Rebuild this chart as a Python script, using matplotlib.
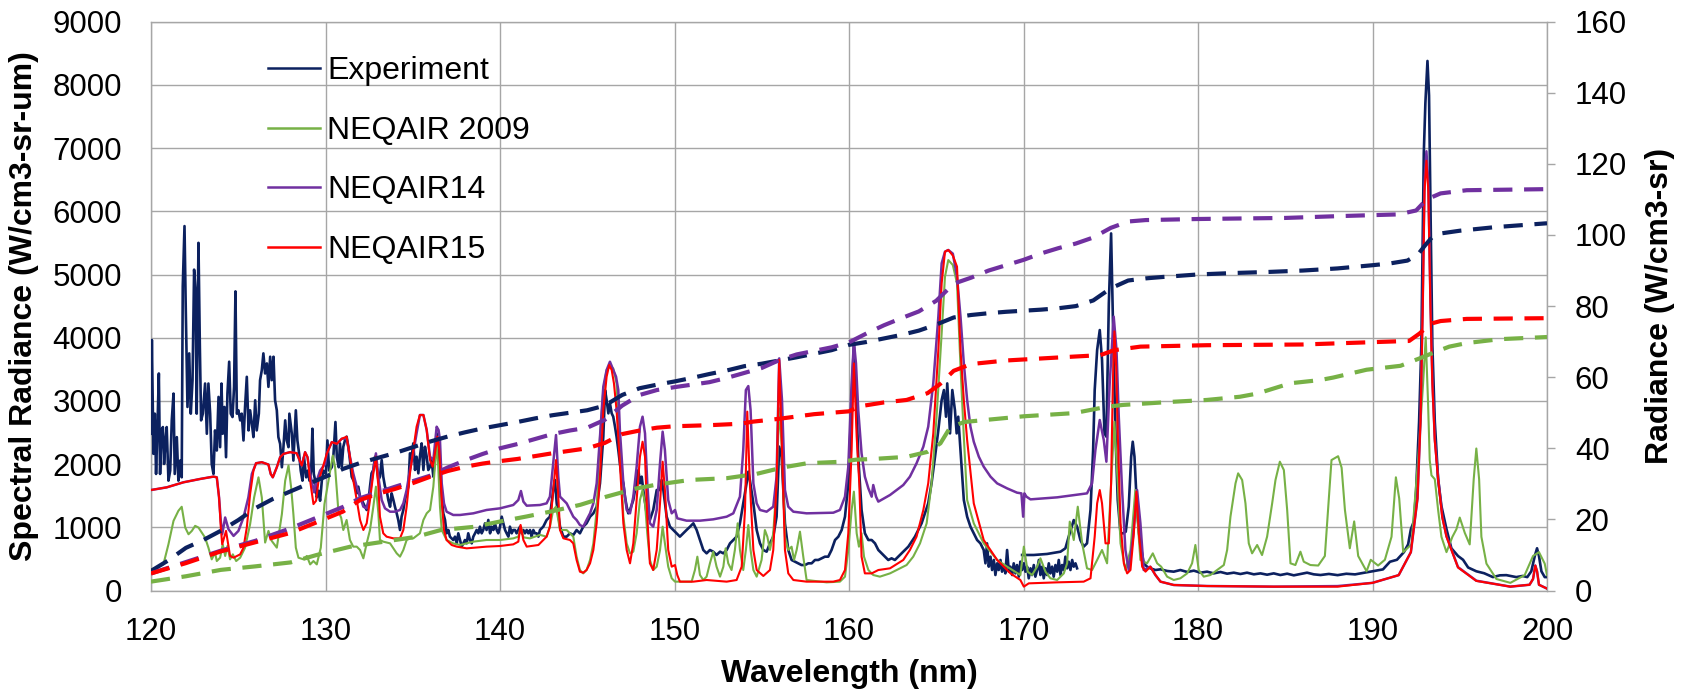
import matplotlib
matplotlib.use('Agg')
import matplotlib.pyplot as plt

plt.rcParams['font.family'] = ['Liberation Sans', 'DejaVu Sans']

# ---------------- data (wavelength nm, spectral radiance W/cm3-sr-um) ----------------
experiment = [
    (120.0, 2480), (120.05, 3964), (120.14, 2162), (120.22, 2798), (120.29, 1844), (120.37, 2586),
    (120.45, 3434), (120.52, 1844), (120.6, 2533), (120.68, 2586), (120.75, 2003), (120.83, 2374),
    (120.9, 2586), (121.0, 1738), (121.1, 1897), (121.19, 2692), (121.29, 3116), (121.36, 1844),
    (121.48, 2427), (121.57, 1738), (121.67, 2056), (121.76, 1791), (121.82, 4812), (121.92, 5766),
    (121.99, 4494), (122.09, 2904), (122.19, 3752), (122.28, 2798), (122.38, 3328), (122.47, 5077),
    (122.55, 4759), (122.62, 2798), (122.72, 5501), (122.8, 3858), (122.87, 2692), (122.97, 2798),
    (123.1, 3275), (123.2, 2480), (123.29, 3275), (123.39, 2798), (123.48, 2003), (123.58, 1844),
    (123.67, 2533), (123.77, 2215), (123.87, 3063), (123.96, 2268), (124.04, 3275), (124.11, 2480),
    (124.21, 2904), (124.3, 2109), (124.38, 3116), (124.48, 3620), (124.57, 2798), (124.67, 2745),
    (124.76, 3222), (124.84, 4733), (124.92, 2798), (125.01, 2851), (125.11, 2692), (125.2, 2798),
    (125.3, 2374), (125.39, 2904), (125.49, 3381), (125.59, 2533), (125.68, 2851), (125.78, 2639),
    (125.87, 2427), (125.97, 3010), (126.06, 2533), (126.18, 2798), (126.25, 3328), (126.35, 3487),
    (126.44, 3752), (126.54, 3434), (126.64, 3593), (126.73, 3222), (126.83, 3699), (126.92, 3328),
    (127.02, 3699), (127.11, 3010), (127.21, 2851), (127.3, 2427), (127.4, 2321), (127.5, 1950),
    (127.59, 2268), (127.69, 2692), (127.78, 2374), (127.88, 2268), (127.93, 2798), (128.07, 2480),
    (128.16, 2056), (128.3, 2851), (128.39, 2374), (128.49, 2162), (128.58, 1897), (128.68, 1738),
    (128.77, 2109), (128.89, 1791), (128.99, 1897), (129.08, 1738), (129.18, 1897), (129.25, 2560),
    (129.33, 1844), (129.41, 1738), (129.5, 1473), (129.6, 1579), (129.69, 1420), (129.79, 1738),
    (129.88, 1897), (130.02, 1844), (130.11, 2374), (130.21, 1897), (130.36, 1950), (130.46, 2162),
    (130.57, 2666), (130.65, 2109), (130.76, 1950), (130.83, 2328), (130.93, 1959), (131.02, 2275),
    (131.12, 2381), (131.21, 2434), (131.31, 2275), (131.4, 2064), (131.5, 1801), (131.59, 1748),
    (131.69, 1696), (131.79, 1537), (131.88, 1643), (131.98, 1485), (132.07, 1432), (132.17, 1379),
    (132.26, 1326), (132.36, 1274), (132.45, 1379), (132.55, 1643), (132.64, 1854), (132.74, 1907),
    (132.84, 2117), (132.93, 1959), (133.03, 1748), (133.12, 1801), (133.22, 2064), (133.31, 1801),
    (133.41, 1643), (133.5, 1590), (133.6, 1432), (133.7, 1326), (133.79, 1537), (133.89, 1432),
    (133.98, 1326), (134.08, 1221), (134.17, 1116), (134.27, 957), (134.36, 1168), (134.46, 1274),
    (134.55, 1432), (134.65, 1537), (134.75, 1643), (134.84, 2170), (134.94, 2117), (135.03, 2328),
    (135.13, 1907), (135.22, 2117), (135.32, 1854), (135.41, 2117), (135.51, 2328), (135.61, 1907),
    (135.7, 2275), (135.8, 2117), (135.89, 1907), (135.99, 1959), (136.08, 2064), (136.18, 1801),
    (136.27, 2117), (136.37, 2487), (136.46, 2222), (136.56, 1854), (136.66, 1485), (136.75, 1221),
    (136.85, 1116), (136.94, 905), (137.04, 957), (137.13, 852), (137.32, 799), (137.42, 852),
    (137.52, 746), (137.61, 905), (137.71, 799), (137.8, 694), (137.9, 746), (137.99, 799),
    (138.09, 746), (138.18, 905), (138.28, 799), (138.38, 746), (138.47, 852), (138.57, 905),
    (138.66, 957), (138.76, 905), (138.85, 1010), (138.95, 905), (139.04, 957), (139.14, 1063),
    (139.23, 957), (139.33, 1116), (139.43, 905), (139.52, 1010), (139.62, 957), (139.71, 1063),
    (139.81, 957), (139.9, 905), (140.0, 1010), (140.1, 1168), (140.19, 1063), (140.29, 957),
    (140.38, 905), (140.48, 852), (140.57, 1010), (140.67, 905), (140.76, 957), (140.86, 957),
    (140.95, 905), (141.05, 957), (141.15, 1010), (141.24, 905), (141.34, 957), (141.43, 905),
    (141.53, 957), (141.62, 905), (141.72, 957), (141.81, 852), (141.91, 957), (142.0, 905),
    (142.1, 905), (142.2, 852), (142.29, 957), (142.48, 1010), (142.67, 1115), (142.86, 1168),
    (143.05, 1590), (143.15, 1748), (143.25, 1379), (143.44, 1010), (143.63, 852), (143.82, 852),
    (144.01, 905), (144.2, 878), (144.39, 957), (144.58, 905), (144.77, 1010), (144.96, 1063),
    (145.16, 1168), (145.35, 1221), (145.54, 1326), (145.73, 1696), (145.92, 2434), (146.02, 3172),
    (146.11, 3014), (146.21, 2803), (146.3, 2961), (146.4, 2803), (146.49, 2750), (146.59, 2592),
    (146.68, 2434), (146.78, 2223), (146.87, 2012), (146.97, 1801), (147.07, 1696), (147.16, 1485),
    (147.26, 1326), (147.35, 1221), (147.45, 1274), (147.64, 1432), (147.83, 1748), (147.93, 1906),
    (148.02, 1696), (148.12, 1801), (148.21, 1590), (148.4, 1221), (148.59, 1115), (148.78, 1274),
    (148.98, 1590), (149.17, 1590), (149.26, 1748), (149.36, 1590), (149.55, 1168), (149.74, 1010),
    (149.93, 957), (150.12, 905), (150.31, 852), (150.5, 905), (150.69, 957), (150.89, 1010),
    (151.08, 1063), (151.27, 957), (151.46, 799), (151.65, 641), (151.84, 588), (152.03, 641),
    (152.22, 614), (152.41, 562), (152.61, 614), (152.8, 588), (152.99, 641), (153.18, 746),
    (153.37, 799), (153.56, 852), (153.75, 1063), (153.94, 1379), (154.13, 1696), (154.23, 1880),
    (154.32, 1748), (154.52, 1379), (154.71, 957), (154.9, 746), (155.09, 641), (155.28, 614),
    (155.47, 746), (155.66, 852), (155.85, 1168), (156.0, 2276), (156.14, 2117), (156.33, 1063),
    (156.52, 641), (156.71, 483), (156.9, 456), (157.09, 430), (157.28, 403), (157.48, 403),
    (157.67, 430), (157.86, 430), (158.05, 483), (158.24, 483), (158.43, 509), (158.62, 535),
    (158.81, 535), (159.0, 641), (159.2, 799), (159.39, 852), (159.58, 957), (159.77, 1168),
    (159.96, 1696), (160.15, 3014), (160.28, 3900), (160.4, 3172), (160.53, 2117), (160.72, 1274),
    (160.91, 905), (161.11, 799), (161.3, 799), (161.49, 746), (161.68, 641), (161.87, 588),
    (162.06, 535), (162.25, 483), (162.44, 509), (162.63, 483), (162.82, 535), (163.02, 588),
    (163.21, 641), (163.4, 694), (163.59, 773), (163.78, 852), (163.97, 957), (164.16, 1063),
    (164.35, 1221), (164.54, 1379), (164.73, 1696), (164.93, 2117), (165.12, 2539), (165.31, 3014),
    (165.44, 3172), (165.56, 2750), (165.63, 3277), (165.79, 2486), (165.92, 3172), (166.07, 2856),
    (166.17, 2486), (166.26, 2750), (166.39, 2223), (166.58, 1432), (166.77, 1168), (166.96, 1010),
    (167.15, 905), (167.34, 799), (167.53, 746), (167.72, 641), (167.82, 430), (167.91, 746),
    (168.01, 377), (168.11, 535), (168.2, 324), (168.3, 483), (168.39, 245), (168.49, 430),
    (168.58, 324), (168.68, 483), (168.77, 298), (168.87, 403), (168.96, 271), (169.06, 641),
    (169.16, 298), (169.25, 377), (169.35, 245), (169.44, 430), (169.54, 271), (169.63, 403),
    (169.73, 219), (169.82, 456), (169.92, 324), (170.02, 430), (170.11, 298), (170.21, 377),
    (170.3, 193), (170.4, 351), (170.49, 245), (170.59, 403), (170.68, 219), (170.78, 324),
    (170.88, 483), (170.97, 245), (171.07, 377), (171.16, 193), (171.26, 351), (171.35, 245),
    (171.45, 430), (171.54, 271), (171.64, 377), (171.73, 219), (171.83, 403), (171.93, 298),
    (172.02, 483), (172.12, 245), (172.21, 403), (172.31, 324), (172.4, 535), (172.5, 351),
    (172.59, 456), (172.69, 324), (172.79, 483), (172.88, 377), (172.98, 430), (173.07, 351),
]
# second spectrometer window of the experiment (overlaps 170-173 nm)
experiment_b = [
    (169.92, 562), (170.59, 562), (171.35, 578), (172.12, 614), (172.4, 667), (172.59, 852),
    (172.88, 1115), (173.07, 1010), (173.26, 799), (173.45, 694), (173.64, 746), (173.84, 1274),
    (173.99, 2223), (174.08, 3172), (174.22, 3805), (174.37, 4121), (174.5, 3647), (174.64, 2486),
    (174.75, 2434), (174.89, 4543), (175.02, 5650), (175.14, 4069), (175.27, 2486), (175.4, 1432),
    (175.56, 905), (175.71, 905), (175.86, 931), (176.03, 1326), (176.17, 2117), (176.26, 2354),
    (176.36, 2117), (176.51, 1274), (176.66, 799), (176.89, 430), (177.08, 377), (177.27, 351),
    (177.56, 324), (177.85, 335), (178.23, 309), (178.61, 298), (178.99, 324), (179.38, 293),
    (179.76, 314), (180.14, 282), (180.52, 298), (180.9, 271), (181.29, 293), (181.67, 266),
    (182.05, 282), (182.43, 261), (182.81, 282), (183.2, 256), (183.58, 271), (183.96, 250),
    (184.34, 271), (184.72, 245), (185.11, 266), (185.49, 240), (185.87, 261), (186.25, 282),
    (186.63, 256), (187.02, 245), (187.5, 262), (188.0, 243), (188.5, 265), (189.0, 255),
    (189.5, 280), (190.0, 304), (190.6, 334), (191.0, 455), (191.4, 486), (191.8, 607),
    (192.04, 729), (192.2, 971), (192.37, 1093), (192.5, 1579), (192.67, 2671), (192.8, 3886),
    (192.94, 6922), (193.03, 7711), (193.15, 8379), (193.24, 7832), (193.34, 5707), (193.43, 3886),
    (193.57, 2671), (193.76, 1761), (193.95, 1336), (194.24, 971), (194.52, 668), (194.9, 546),
    (195.19, 486), (195.48, 364), (195.95, 304), (196.4, 273), (196.9, 212), (197.3, 240),
    (197.67, 243), (198.0, 225), (198.24, 212), (198.6, 230), (198.87, 212), (199.1, 304),
    (199.3, 546), (199.43, 668), (199.54, 546), (199.68, 304), (199.87, 212), (200.0, 212),
]

neqair2009 = [
    (120.0, 334), (120.33, 360), (120.71, 413), (121.0, 731), (121.29, 1102), (121.57, 1261),
    (121.76, 1325), (121.96, 996), (122.15, 890), (122.34, 943), (122.53, 1023), (122.72, 996),
    (122.91, 917), (123.1, 837), (123.29, 678), (123.48, 493), (123.67, 599), (123.77, 466),
    (123.96, 519), (124.11, 731), (124.25, 546), (124.38, 705), (124.53, 493), (124.69, 572),
    (124.88, 466), (125.11, 519), (125.39, 678), (125.68, 1049), (125.91, 1473), (126.16, 1791),
    (126.35, 1473), (126.54, 758), (126.73, 943), (126.92, 784), (127.21, 678), (127.5, 1208),
    (127.69, 1738), (127.88, 1977), (128.03, 1632), (128.16, 1208), (128.3, 678), (128.45, 519),
    (128.74, 493), (128.93, 546), (129.12, 413), (129.31, 466), (129.5, 413), (129.73, 678),
    (129.94, 1367), (130.17, 1738), (130.42, 2136), (130.55, 1950), (130.74, 1250), (130.9, 1150),
    (131.02, 957), (131.21, 1116), (131.4, 799), (131.59, 694), (131.79, 694), (131.98, 641),
    (132.17, 509), (132.36, 746), (132.55, 957), (132.74, 1326), (132.89, 1643), (133.03, 1221),
    (133.12, 799), (133.31, 773), (133.7, 746), (134.08, 588), (134.27, 536), (134.46, 641),
    (134.65, 799), (134.84, 825), (135.03, 825), (135.41, 905), (135.61, 1116), (135.8, 1221),
    (135.99, 1274), (136.18, 1643), (136.37, 2328), (136.46, 1959), (136.56, 1326), (136.66, 957),
    (136.75, 905), (136.94, 799), (137.32, 746), (137.71, 720), (138.09, 746), (138.47, 773),
    (139.23, 799), (140.0, 799), (140.76, 825), (141.05, 852), (141.2, 1010), (141.34, 841),
    (141.72, 825), (142.29, 880), (142.67, 852), (142.86, 1010), (143.05, 1274), (143.21, 1327),
    (143.44, 957), (143.82, 957), (144.2, 852), (144.39, 535), (144.58, 324), (144.77, 271),
    (144.96, 324), (145.16, 483), (145.35, 746), (145.54, 1274), (145.73, 2434), (145.92, 3172),
    (146.11, 3489), (146.3, 3541), (146.49, 3515), (146.68, 3278), (146.87, 2223), (147.07, 1168),
    (147.26, 746), (147.45, 588), (147.64, 614), (147.83, 905), (148.02, 1432), (148.17, 1590),
    (148.31, 1379), (148.44, 905), (148.59, 483), (148.78, 324), (148.98, 377), (149.17, 641),
    (149.32, 1010), (149.45, 746), (149.64, 377), (149.84, 193), (150.03, 140), (150.98, 140),
    (151.17, 324), (151.31, 535), (151.46, 245), (151.65, 166), (151.84, 219), (152.03, 430),
    (152.22, 614), (152.41, 377), (152.61, 219), (152.8, 377), (152.93, 667), (153.08, 430),
    (153.27, 324), (153.46, 641), (153.62, 1063), (153.75, 641), (153.94, 324), (154.09, 641),
    (154.23, 1036), (154.36, 641), (154.52, 324), (154.71, 219), (154.99, 483), (155.18, 957),
    (155.32, 852), (155.47, 641), (155.66, 905), (155.85, 1696), (156.0, 2882), (156.16, 2223),
    (156.33, 852), (156.52, 641), (156.71, 693), (156.85, 483), (157.0, 641), (157.19, 931),
    (157.38, 535), (157.57, 166), (158.72, 129), (159.48, 140), (159.77, 219), (159.96, 641),
    (160.15, 1274), (160.28, 1564), (160.44, 905), (160.57, 693), (160.72, 905), (160.86, 535),
    (161.11, 324), (161.39, 245), (161.77, 219), (162.35, 271), (162.92, 351), (163.3, 403),
    (163.68, 535), (164.07, 746), (164.45, 1063), (164.73, 1696), (165.02, 2750), (165.31, 4069),
    (165.5, 4965), (165.69, 5229), (165.95, 5150), (166.19, 4860), (166.39, 3541), (166.58, 2433),
    (166.77, 1432), (167.15, 1063), (167.72, 746), (168.49, 483), (169.06, 377), (169.82, 245),
    (170.02, 694), (170.24, 298), (170.49, 245), (170.78, 377), (170.97, 509), (171.26, 298),
    (171.54, 193), (171.93, 166), (172.31, 271), (172.5, 430), (172.65, 1089), (172.88, 799),
    (173.11, 1326), (173.36, 746), (173.64, 351), (173.93, 324), (174.22, 483), (174.5, 641),
    (174.79, 430), (175.02, 1696), (175.21, 2671), (175.4, 1696), (175.56, 746), (175.84, 324),
    (176.13, 641), (176.41, 1590), (176.7, 483), (177.08, 430), (177.41, 588), (177.66, 430),
    (177.89, 377), (178.23, 219), (178.61, 166), (178.99, 193), (179.38, 271), (179.66, 430),
    (179.85, 720), (180.04, 324), (180.33, 219), (180.71, 245), (181.1, 324), (181.48, 403),
    (181.67, 641), (181.86, 1168), (182.15, 1696), (182.3, 1854), (182.53, 1748), (182.72, 1379),
    (182.91, 746), (183.1, 588), (183.39, 720), (183.67, 561), (183.96, 852), (184.25, 1379),
    (184.44, 1748), (184.69, 2038), (184.92, 1906), (185.11, 1274), (185.3, 430), (185.58, 403),
    (185.87, 614), (186.06, 456), (186.44, 403), (186.89, 395), (187.27, 546), (187.65, 2064),
    (188.03, 2125), (188.23, 1943), (188.42, 1275), (188.7, 668), (188.95, 1093), (189.18, 546),
    (189.66, 304), (189.9, 486), (190.32, 395), (190.71, 486), (191.09, 850), (191.34, 1791),
    (191.53, 1457), (191.76, 607), (192.23, 729), (192.61, 2064), (192.9, 3279), (193.05, 4007),
    (193.18, 3000), (193.28, 2064), (193.38, 1822), (193.57, 1761), (193.76, 1275), (193.95, 850),
    (194.24, 607), (194.58, 850), (194.81, 971), (195.0, 1154), (195.29, 911), (195.57, 729),
    (195.8, 1761), (195.95, 2247), (196.11, 1761), (196.24, 850), (196.53, 425), (197.1, 182),
    (197.9, 121), (198.72, 243), (199.2, 546), (199.54, 607), (199.87, 425), (200.0, 243),
]

neqair14 = [
    (120.0, 1590), (120.9, 1632), (121.86, 1712), (122.82, 1765), (123.58, 1802), (123.77, 1791),
    (123.9, 1473), (124.0, 1100), (124.08, 890), (124.25, 1155), (124.44, 970), (124.73, 864),
    (125.01, 943), (125.3, 1155), (125.58, 1473), (125.78, 1844), (126.02, 2014), (126.35, 2030),
    (126.73, 1993), (126.86, 1844), (126.98, 1791), (127.21, 1950), (127.4, 2109), (127.59, 2162),
    (127.97, 2189), (128.35, 2173), (128.64, 1977), (128.83, 2189), (128.97, 2109), (129.12, 1844),
    (129.35, 1553), (129.5, 1738), (129.69, 1897), (129.98, 2003), (130.07, 2162), (130.36, 2348),
    (130.65, 2321), (130.93, 2401), (131.21, 2408), (131.4, 2117), (131.59, 1854), (131.79, 1643),
    (131.98, 1485), (132.17, 1326), (132.36, 1300), (132.55, 1537), (132.74, 1907), (132.89, 2170),
    (133.03, 1801), (133.22, 1432), (133.41, 1300), (133.7, 1247), (133.98, 1247), (134.27, 1274),
    (134.46, 1379), (134.65, 1590), (134.84, 1907), (135.03, 2170), (135.22, 2487), (135.41, 2777),
    (135.61, 2777), (135.8, 2539), (135.99, 2117), (136.18, 2064), (136.37, 2592), (136.48, 2539),
    (136.56, 2381), (136.66, 1696), (136.79, 1379), (136.94, 1247), (137.32, 1195), (137.71, 1195),
    (138.47, 1221), (139.23, 1274), (140.0, 1300), (140.76, 1353), (141.05, 1432), (141.2, 1574),
    (141.34, 1406), (141.53, 1342), (142.29, 1353), (142.67, 1379), (142.86, 1485), (143.05, 2012),
    (143.21, 2460), (143.34, 1801), (143.44, 1485), (143.63, 1432), (143.82, 1379), (144.01, 1274),
    (144.2, 1168), (144.39, 1115), (144.58, 1036), (144.77, 1010), (144.96, 1115), (145.16, 1221),
    (145.35, 1379), (145.54, 1696), (145.73, 2434), (145.92, 3225), (146.11, 3489), (146.3, 3620),
    (146.49, 3489), (146.65, 3383), (146.78, 3172), (146.87, 2539), (147.07, 1696), (147.26, 1274),
    (147.45, 1221), (147.64, 1485), (147.83, 1959), (148.02, 2592), (148.17, 2750), (148.31, 2486),
    (148.44, 1696), (148.59, 1063), (148.78, 1010), (148.98, 1274), (149.17, 2012), (149.32, 2513),
    (149.45, 2223), (149.64, 1432), (149.84, 1221), (150.03, 1274), (150.16, 1142), (150.69, 1105),
    (151.46, 1105), (152.22, 1126), (152.99, 1168), (153.37, 1221), (153.75, 1485), (153.94, 2223),
    (154.09, 3172), (154.23, 3235), (154.36, 2856), (154.52, 1696), (154.71, 1379), (154.9, 1274),
    (155.28, 1247), (155.66, 1326), (155.85, 1801), (156.0, 3673), (156.16, 3014), (156.33, 1590),
    (156.52, 1326), (156.81, 1247), (157.57, 1221), (159.1, 1231), (159.48, 1274), (159.77, 1485),
    (159.96, 1959), (160.15, 3278), (160.28, 3937), (160.4, 3594), (160.53, 2856), (160.72, 2170),
    (160.91, 1801), (161.11, 1616), (161.3, 1485), (161.39, 1669), (161.55, 1485), (161.68, 1406),
    (162.35, 1511), (163.11, 1669), (163.49, 1801), (163.87, 2012), (164.26, 2276), (164.54, 2592),
    (164.83, 3278), (165.12, 4333), (165.31, 5177), (165.5, 5361), (165.69, 5388), (165.95, 5330),
    (166.19, 4965), (166.39, 4333), (166.58, 3594), (166.77, 3014), (166.96, 2592), (167.15, 2354),
    (167.44, 2117), (167.72, 1959), (168.11, 1801), (168.49, 1695), (169.06, 1616), (169.63, 1548),
    (169.88, 1537), (169.98, 1168), (170.05, 1537), (170.17, 1485), (170.4, 1442), (171.93, 1474),
    (173.64, 1537), (173.93, 1696), (174.12, 2223), (174.37, 2698), (174.6, 2381), (174.75, 2038),
    (174.94, 3278), (175.17, 4333), (175.33, 3805), (175.46, 2750), (175.65, 1590), (175.84, 641),
    (176.03, 324), (176.28, 852), (176.51, 1590), (176.7, 1063), (176.89, 324), (177.27, 377),
    (177.56, 245), (177.85, 140), (178.61, 87), (180.52, 71), (184.34, 61), (188.0, 70),
    (190.0, 121), (191.5, 243), (192.2, 607), (192.58, 1457), (192.75, 2700), (192.88, 4600),
    (192.98, 6450), (193.09, 6950), (193.2, 6450), (193.32, 4600), (193.43, 3350), (193.57, 2400),
    (193.76, 1790), (194.0, 1170), (194.24, 860), (194.9, 370), (195.95, 155), (197.9, 61),
    (199.0, 91), (199.2, 182), (199.33, 395), (199.43, 304), (199.54, 91), (200.0, 30),
]

neqair15 = [
    (120.0, 1590), (120.9, 1632), (121.86, 1712), (122.82, 1765), (123.58, 1802), (123.77, 1791),
    (123.9, 1473), (124.0, 996), (124.08, 731), (124.19, 837), (124.3, 943), (124.42, 731),
    (124.53, 546), (124.73, 519), (124.92, 546), (125.11, 572), (125.3, 678), (125.49, 996),
    (125.68, 1526), (125.87, 1897), (126.02, 2014), (126.35, 2030), (126.73, 1993), (126.86, 1844),
    (126.98, 1791), (127.21, 1950), (127.4, 2109), (127.59, 2162), (127.97, 2189), (128.35, 2173),
    (128.64, 1977), (128.83, 2189), (128.97, 2109), (129.12, 1738), (129.31, 1367), (129.46, 1420),
    (129.6, 1738), (129.79, 1897), (130.07, 2162), (130.36, 2348), (130.65, 2321), (130.93, 2401),
    (131.21, 2434), (131.4, 2117), (131.59, 1748), (131.79, 1432), (131.98, 1116), (132.17, 957),
    (132.36, 1063), (132.55, 1432), (132.74, 1854), (132.89, 2117), (133.03, 1643), (133.12, 1168),
    (133.31, 905), (133.5, 852), (133.89, 825), (134.27, 825), (134.46, 957), (134.65, 1326),
    (134.84, 1854), (135.03, 2222), (135.22, 2592), (135.41, 2777), (135.61, 2777), (135.8, 2539),
    (135.99, 2064), (136.14, 1959), (136.27, 2170), (136.41, 2434), (136.52, 2222), (136.66, 1432),
    (136.79, 957), (136.94, 799), (137.23, 720), (137.52, 694), (138.09, 667), (139.23, 694),
    (140.0, 704), (140.76, 730), (141.05, 773), (141.18, 1037), (141.34, 799), (141.53, 694),
    (142.2, 720), (142.48, 799), (142.67, 852), (142.86, 1010), (143.05, 1590), (143.21, 2064),
    (143.34, 1485), (143.44, 957), (143.63, 826), (144.01, 799), (144.2, 746), (144.39, 483),
    (144.58, 298), (144.77, 282), (144.96, 324), (145.16, 430), (145.35, 641), (145.54, 1063),
    (145.73, 1801), (145.92, 2856), (146.11, 3383), (146.26, 3568), (146.4, 3489), (146.53, 3278),
    (146.68, 2856), (146.87, 2012), (147.07, 1063), (147.26, 641), (147.45, 430), (147.64, 746),
    (147.83, 1432), (148.02, 2117), (148.17, 2354), (148.31, 2117), (148.44, 1168), (148.59, 430),
    (148.78, 324), (148.98, 641), (149.17, 1379), (149.32, 2038), (149.45, 1590), (149.64, 641),
    (149.84, 377), (150.03, 403), (150.16, 245), (150.31, 140), (151.08, 140), (151.84, 166),
    (152.99, 140), (153.56, 166), (153.85, 377), (154.04, 1274), (154.17, 2830), (154.32, 1696),
    (154.52, 641), (154.71, 324), (155.09, 230), (155.47, 324), (155.66, 641), (155.85, 1696),
    (156.0, 3647), (156.16, 2223), (156.33, 641), (156.52, 271), (156.81, 166), (157.57, 140),
    (159.1, 140), (159.48, 166), (159.77, 324), (159.96, 905), (160.15, 2223), (160.28, 3594),
    (160.44, 2434), (160.59, 1696), (160.72, 535), (160.91, 271), (161.3, 271), (161.68, 324),
    (162.35, 351), (163.11, 483), (163.49, 641), (163.87, 852), (164.26, 1274), (164.54, 1696),
    (164.83, 2486), (165.12, 3805), (165.31, 4860), (165.5, 5361), (165.69, 5388), (165.95, 5300),
    (166.19, 5124), (166.39, 3805), (166.58, 3014), (166.77, 2381), (167.15, 1379), (167.72, 799),
    (168.49, 483), (169.25, 272), (169.82, 166), (170.02, 61), (170.3, 113), (171.93, 129),
    (173.45, 140), (173.84, 193), (174.08, 852), (174.22, 1379), (174.37, 1590), (174.5, 1379),
    (174.7, 746), (174.89, 746), (175.02, 1696), (175.12, 3278), (175.21, 4100), (175.31, 3541),
    (175.4, 2486), (175.56, 1063), (175.75, 430), (175.94, 271), (176.13, 324), (176.32, 899),
    (176.47, 1564), (176.61, 899), (176.8, 377), (176.99, 298), (177.27, 377), (177.56, 245),
    (177.85, 140), (178.61, 87), (180.52, 71), (184.34, 61), (188.0, 61), (190.0, 121),
    (191.5, 243), (192.2, 607), (192.58, 1457), (192.75, 2671), (192.88, 4493), (192.98, 6315),
    (193.09, 6800), (193.2, 6315), (193.32, 4493), (193.43, 3279), (193.57, 2368), (193.76, 1761),
    (194.0, 1154), (194.24, 850), (194.9, 364), (195.95, 152), (197.9, 61), (199.0, 91),
    (199.2, 182), (199.33, 395), (199.43, 304), (199.54, 91), (200.0, 30),
]

# cumulative radiance (W/cm3-sr), right axis
experiment_cum = [
    (120, 5.5), (121, 8.5), (122, 12.0), (123, 14.2), (124, 16.8), (125, 19.8), (126, 23.2),
    (127, 25.8), (128, 27.9), (129, 30.0), (130, 32.0), (131, 34.2), (132, 35.9), (133, 37.3),
    (134, 38.7), (135, 40.3), (136, 41.9), (137, 43.3), (138, 44.5), (139, 45.6), (140, 46.5),
    (141, 47.4), (142, 48.4), (143, 49.3), (144, 50.0), (145, 50.7), (146, 52.0), (147, 55.0),
    (148, 56.9), (149, 57.9), (150, 58.8), (151, 59.8), (152, 60.9), (153, 61.9), (154, 63.1),
    (155, 63.8), (156, 64.7), (157, 65.6), (158, 66.6), (159, 67.6), (160, 69.1), (161, 69.9),
    (162, 70.9), (163, 71.9), (164, 73.1), (165, 74.8), (166, 76.8), (167, 77.5), (168, 78.0),
    (169, 78.4), (170, 78.7), (171, 79.0), (172, 79.4), (173, 80.0), (174, 81.6), (175, 85.0),
    (176, 87.2), (177, 87.8), (178, 88.2), (180, 88.9), (182, 89.3), (184, 89.6), (186, 90.0),
    (188, 90.6), (190, 91.5), (191, 92.0), (192, 92.8), (192.6, 94.5), (193.0, 97.0),
    (193.4, 99.3), (194, 100.5), (195, 101.2), (197, 102.2), (200, 103.3),
]
neqair2009_cum = [
    (120, 2.5), (122, 4.0), (124, 5.8), (126, 6.8), (128, 7.9), (129.5, 10.0), (130.65, 11.4),
    (131.4, 12.3), (133.3, 13.7), (135.2, 15.1), (136.6, 17.0), (138.5, 17.9), (140, 19.4),
    (141.5, 20.8), (142.9, 22.2), (144.6, 24.1), (146.1, 26.4), (147.8, 28.7), (149, 29.8),
    (150.9, 31.1), (153, 31.6), (154.7, 32.8), (156.2, 34.6), (157.6, 35.8), (159.5, 36.2),
    (160.4, 36.8), (161.4, 37.0), (163.3, 37.6), (164.5, 39.0), (165.24, 41.4), (165.8, 45.9),
    (166.6, 47.4), (170, 49.0), (172.9, 49.9), (174.8, 51.7), (175.7, 52.2), (178.6, 53.1),
    (180.5, 53.6), (182.4, 54.5), (183.4, 55.4), (185.3, 58.3), (187.0, 59.2), (187.75, 59.9),
    (189.66, 62.1), (191.6, 63.2), (192.7, 65.3), (193.5, 66.9), (194.4, 68.6), (195.4, 69.6),
    (197.3, 70.7), (200, 71.3),
]
neqair14_cum = [
    (120, 4.8), (122, 8.0), (124, 11.2), (126, 14.0), (128, 17.5), (130, 21.5), (131, 23.5),
    (132, 26.0), (134, 29.2), (136, 32.3), (137, 34.6), (138, 36.6), (139, 38.4), (140, 40.0),
    (141, 41.2), (142, 42.6), (143, 44.0), (144, 45.0), (145, 45.8), (146, 48.0), (147, 52.0),
    (148, 55.0), (149, 56.4), (150, 57.2), (151, 57.9), (152, 58.6), (153, 59.8), (154, 61.2),
    (155, 62.6), (156, 64.8), (157, 66.4), (158, 67.4), (159, 68.4), (160, 69.8), (161, 72.3),
    (162, 74.6), (163, 76.6), (164, 78.5), (165, 81.5), (166, 86.3), (167, 88.0), (168, 90.0),
    (169, 91.5), (170, 93.0), (171, 94.8), (172, 96.3), (173, 97.6), (174, 99.3), (175, 102.0),
    (176, 103.8), (177, 104.2), (180, 104.5), (185, 104.8), (188, 105.3), (191.5, 105.8),
    (192.5, 106.9), (193.1, 110.0), (193.9, 111.7), (195.4, 112.6), (200, 112.9),
]
neqair15_cum = [
    (120, 4.8), (122, 7.7), (124, 11.0), (126, 13.6), (128, 16.2), (130, 20.2), (131, 22.2),
    (132, 25.5), (133, 27.2), (134, 28.6), (135, 30.2), (136, 32.0), (137, 33.6), (138, 34.8),
    (139, 35.7), (140, 36.4), (141, 37.0), (142, 37.8), (143, 38.6), (144, 39.3), (145, 40.0),
    (146, 41.5), (147, 44.0), (148, 45.0), (149, 45.8), (150, 46.2), (152, 46.5), (153.75, 46.9),
    (154.5, 47.5), (156, 48.3), (158, 49.6), (160, 50.4), (160.6, 51.8), (162, 52.9),
    (163.3, 53.6), (164.5, 55.5), (165.2, 58.0), (166, 61.8), (167, 63.7), (169, 64.7),
    (172.9, 65.8), (174.4, 66.2), (175.2, 67.6), (176.7, 68.6), (180.5, 69.0), (186, 69.2),
    (192.1, 70.2), (192.7, 72.3), (193.3, 75.0), (193.9, 75.8), (195.4, 76.4), (200, 76.6),
]

x_ticks = list(range(120, 201, 10))
left_ticks = list(range(0, 9001, 1000))
right_ticks = list(range(0, 161, 20))

# ---------------- styling ----------------
NAVY = '#0c215f'
GREEN = '#77b146'
PURPLE = '#7030a0'
RED = '#ff0000'
GRID = '#a6a6a6'
FS = 22.5

W, H = 1683, 689
fig = plt.figure(figsize=(W / 100, H / 100), dpi=100)
L, R, T, B = 151, 1547, 21.7, 590.5
ax = fig.add_axes([L / W, 1 - B / H, (R - L) / W, (B - T) / H])


def unzip(pairs):
    return [p[0] for p in pairs], [p[1] for p in pairs]


ax.plot(*unzip(experiment), color=NAVY, lw=1.9, label='Experiment', zorder=3)
ax.plot(*unzip(experiment_b), color=NAVY, lw=1.9, zorder=3)
ax.plot(*unzip(neqair2009), color=GREEN, lw=1.5, label='NEQAIR 2009', zorder=4)
ax.plot(*unzip(neqair14), color=PURPLE, lw=1.8, label='NEQAIR14', zorder=5)
ax.plot(*unzip(neqair15), color=RED, lw=1.5, label='NEQAIR15', zorder=6)

ax.set_xlim(120, 200)
ax.set_ylim(0, 9000)
ax.set_xticks(x_ticks)
ax.set_yticks(left_ticks)
ax.grid(True, color=GRID, lw=1.0)
ax.set_axisbelow(True)
for s in ax.spines.values():
    s.set_color(GRID)
    s.set_linewidth(1.0)
ax.tick_params(axis='both', length=0, labelsize=FS, colors='black')
ax.tick_params(axis='y', pad=21)
ax.tick_params(axis='x', pad=19)

ax.set_xlabel('Wavelength (nm)', fontsize=23, fontweight='bold')
ax.xaxis.set_label_coords(0.5, -(674 - B) / (B - T))
ax.xaxis.label.set_verticalalignment('center')
ax.set_ylabel('Spectral Radiance (W/cm3-sr-um)', fontsize=23, fontweight='bold')
ax.yaxis.set_label_coords(-(L - 24) / (R - L), 0.5)
ax.yaxis.label.set_verticalalignment('center')

ax2 = ax.twinx()
dash = dict(lw=3.0, dashes=(4.6, 2.8))
ax2.plot(*unzip(experiment_cum), color=NAVY, **dash)
ax2.plot(*unzip(neqair2009_cum), color=GREEN, **dash)
ax2.plot(*unzip(neqair14_cum), color=PURPLE, **dash)
ax2.plot(*unzip(neqair15_cum), color=RED, **dash)
ax2.set_ylim(0, 160)
ax2.set_yticks(right_ticks)
for s in ax2.spines.values():
    s.set_visible(False)
ax2.tick_params(axis='y', direction='out', length=6, width=1.0, color=GRID,
                labelsize=FS, pad=14)
ax2.set_ylabel('Radiance (W/cm3-sr)', fontsize=23, fontweight='bold', rotation=90)
ax2.yaxis.set_label_coords((1660 - L) / (R - L), 0.5)
ax2.yaxis.label.set_verticalalignment('center')

leg = ax.legend(loc='upper left', bbox_to_anchor=(268 / W, 1 - 56 / H),
                bbox_transform=fig.transFigure, frameon=False, fontsize=23,
                handlelength=1.63, handletextpad=0.22, labelspacing=0.93,
                borderpad=0, borderaxespad=0)
for h in leg.get_lines():
    h.set_linewidth(1.8)

fig.savefig('out.png', dpi=100)
